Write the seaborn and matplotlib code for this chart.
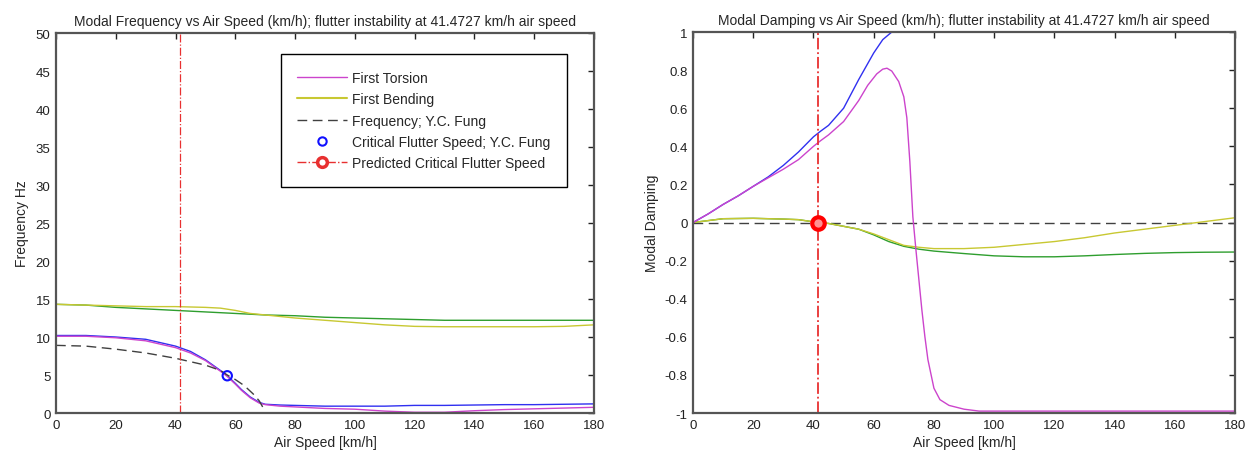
import matplotlib
matplotlib.use("Agg")
import matplotlib.pyplot as plt
from matplotlib.lines import Line2D
import seaborn as sns
import numpy as np

# --- DATA ---
CRIT_SPEED = 41.4727
FUNG_CRIT_SPEED = 57.3
FUNG_CRIT_FREQ = 4.9

# left panel: modal frequency [Hz]
tors_f_speed = [0, 10, 20, 30, 40, 45, 50, 55, 57.3, 60, 62, 65, 68, 70, 75, 80, 90, 100,
                110, 120, 130, 140, 150, 160, 170, 180]
tors_f = [10.1, 10.1, 9.9, 9.5, 8.6, 7.9, 6.9, 5.5, 4.8, 3.8, 3.0, 2.0, 1.3, 1.1, 0.9, 0.8,
          0.6, 0.5, 0.25, 0.1, 0.1, 0.3, 0.45, 0.55, 0.65, 0.75]
alt_tors_f = [10.2, 10.2, 10.0, 9.7, 8.8, 8.1, 7.0, 5.6, 4.9, 3.9, 3.1, 2.1, 1.4, 1.15, 1.05,
              1.0, 0.9, 0.9, 0.9, 1.0, 1.0, 1.05, 1.1, 1.1, 1.15, 1.2]

bend_f_speed = [0, 10, 20, 30, 40, 50, 55, 60, 65, 70, 80, 90, 100, 110, 120, 130, 140, 150,
                160, 170, 180]
bend_f = [14.3, 14.2, 14.1, 14.0, 14.0, 13.9, 13.8, 13.5, 13.1, 12.9, 12.5, 12.2, 11.9, 11.6,
          11.4, 11.35, 11.35, 11.35, 11.35, 11.4, 11.6]
alt_bend_f = [14.3, 14.2, 13.9, 13.7, 13.5, 13.3, 13.2, 13.1, 13.0, 12.9, 12.8, 12.6, 12.5,
              12.4, 12.3, 12.2, 12.2, 12.2, 12.2, 12.2, 12.2]

fung_speed = [0, 10, 20, 30, 40, 50, 55, 57.3, 60, 63, 66, 68, 70]
fung_f = [8.9, 8.8, 8.4, 7.9, 7.2, 6.3, 5.6, 5.0, 4.4, 3.6, 2.5, 1.6, 0.2]

# right panel: modal damping
tors_d_speed = [0, 5, 10, 15, 20, 25, 30, 35, 40, 42.4, 45, 50, 55, 58, 61, 63, 64.4, 66,
                68.3, 70, 71, 72, 73, 74, 75, 76, 77, 78, 80, 82, 85, 90, 95, 180]
tors_d = [0, 0.045, 0.095, 0.14, 0.19, 0.235, 0.28, 0.33, 0.4, 0.43, 0.46, 0.53, 0.64, 0.72,
          0.78, 0.805, 0.81, 0.795, 0.74, 0.66, 0.55, 0.32, 0.03, -0.14, -0.3, -0.46, -0.6,
          -0.72, -0.87, -0.93, -0.96, -0.98, -0.99, -0.99]

alt_tors_d_speed = [0, 5, 10, 15, 20, 25, 30, 35, 40, 42.4, 45, 50, 55, 60, 63, 66, 70, 180]
alt_tors_d = [0, 0.045, 0.095, 0.14, 0.19, 0.24, 0.3, 0.37, 0.45, 0.48, 0.51, 0.6, 0.75,
              0.89, 0.96, 1.0, 1.0, 1.0]

bend_d_speed = [0, 5, 10, 20, 30, 35, 41.5, 45, 50, 55, 60, 65, 70, 75, 80, 90, 100, 110,
                120, 130, 140, 150, 160, 170, 180]
bend_d = [0, 0.01, 0.02, 0.022, 0.018, 0.015, 0.0, -0.005, -0.02, -0.035, -0.06, -0.09,
          -0.12, -0.13, -0.137, -0.137, -0.13, -0.115, -0.1, -0.08, -0.055, -0.035, -0.015,
          0.005, 0.025]
alt_bend_d = [0, 0.01, 0.02, 0.022, 0.018, 0.015, 0.0, -0.005, -0.02, -0.035, -0.065, -0.1,
              -0.125, -0.14, -0.15, -0.163, -0.175, -0.18, -0.18, -0.175, -0.168, -0.162,
              -0.158, -0.156, -0.155]

zero_speed = [0, 180]
zero_d = [0, 0]

freq_ticks = list(range(0, 51, 5))
damp_ticks = [-1, -0.8, -0.6, -0.4, -0.2, 0, 0.2, 0.4, 0.6, 0.8, 1]
speed_ticks = list(range(0, 181, 20))

# --- STYLE ---
sns.set_style("white")
plt.rcParams['font.family'] = ['Liberation Sans', 'DejaVu Sans']

MAGENTA = '#cc44cc'
YELLOW = '#c8c832'
GREEN = '#2e9e2e'
BLUE = '#3030f0'
RED = '#e83030'
DASH = '#404040'

TITLE_FS = 10
LABEL_FS = 10
TICK_FS = 9.5

fig = plt.figure(figsize=(12.56, 4.56), dpi=100)
ax1 = fig.add_axes([0.0446, 0.0921, 0.4283, 0.8333])
ax2 = fig.add_axes([0.5518, 0.0921, 0.4315, 0.8355])


def line(ax, x, y, color):
    sns.lineplot(x=x, y=y, ax=ax, color=color, sort=False, estimator=None, lw=1.0)
    return ax.lines[-1]


# ===== LEFT: frequency =====
line(ax1, bend_f_speed, alt_bend_f, GREEN)
line(ax1, bend_f_speed, bend_f, YELLOW)
line(ax1, tors_f_speed, alt_tors_f, BLUE)
line(ax1, tors_f_speed, tors_f, MAGENTA)
line(ax1, fung_speed, fung_f, DASH).set_dashes((7, 4))
sns.scatterplot(x=[FUNG_CRIT_SPEED], y=[FUNG_CRIT_FREQ], ax=ax1, s=45, marker='o',
                facecolor='none', edgecolor='#1010ff', linewidth=1.5, zorder=5)
ax1.axvline(CRIT_SPEED, color=RED, lw=0.9, linestyle='-.')

ax1.set_xlim(0, 180)
ax1.set_ylim(0, 50)
ax1.set_xticks(speed_ticks)
ax1.set_yticks(freq_ticks)
ax1.set_title("Modal Frequency vs Air Speed (km/h); flutter instability at 41.4727 km/h air speed",
              fontsize=TITLE_FS, pad=6)
ax1.set_xlabel("Air Speed [km/h]", fontsize=LABEL_FS, labelpad=3)
ax1.set_ylabel("Frequency Hz", fontsize=LABEL_FS, labelpad=5)

handles = [
    Line2D([], [], color=MAGENTA, lw=1.0),
    Line2D([], [], color=YELLOW, lw=1.5),
    Line2D([], [], color=DASH, lw=1.0, dashes=(7, 4)),
    Line2D([], [], color='#1010ff', lw=0, marker='o', mfc='none', mew=1.5, ms=6),
    Line2D([], [], color=RED, lw=1.0, linestyle='-.', marker='o', mfc='white', mec=RED,
           mew=2.5, ms=7),
]
labels = ["First Torsion", "First Bending", "Frequency; Y.C. Fung",
          "Critical Flutter Speed; Y.C. Fung", "Predicted Critical Flutter Speed"]
leg = ax1.legend(handles, labels, loc='upper left', bbox_to_anchor=(0.405, 0.962),
                 fontsize=10, handlelength=3.6, labelspacing=0.52, borderpad=1.2,
                 handletextpad=0.35, fancybox=False, framealpha=1, edgecolor='black')
leg.get_frame().set_linewidth(1.0)

# ===== RIGHT: damping =====
line(ax2, zero_speed, zero_d, DASH).set_dashes((7, 4))
line(ax2, bend_d_speed, alt_bend_d, GREEN)
line(ax2, bend_d_speed, bend_d, YELLOW)
line(ax2, alt_tors_d_speed, alt_tors_d, BLUE)
line(ax2, tors_d_speed, tors_d, MAGENTA)
ax2.axvline(CRIT_SPEED, color=RED, lw=1.3, linestyle='-.')
ax2.plot([CRIT_SPEED], [0], marker='o', ms=9, mfc='#ff9090', mec='red', mew=3, zorder=6)

ax2.set_xlim(0, 180)
ax2.set_ylim(-1, 1)
ax2.set_xticks(speed_ticks)
ax2.set_yticks(damp_ticks)
ax2.set_yticklabels([f"{v:g}" for v in damp_ticks])
ax2.set_title("Modal Damping vs Air Speed (km/h); flutter instability at 41.4727 km/h air speed",
              fontsize=TITLE_FS, pad=6)
ax2.set_xlabel("Air Speed [km/h]", fontsize=LABEL_FS, labelpad=3)
ax2.set_ylabel("Modal Damping", fontsize=LABEL_FS, labelpad=4)
if ax2.get_legend() is not None:
    ax2.get_legend().remove()

for ax in (ax1, ax2):
    for s in ax.spines.values():
        s.set_color('#555555')
        s.set_linewidth(1.6)
    ax.tick_params(direction='in', length=4, width=1, top=True, right=True,
                   labelsize=TICK_FS, colors='#222222', pad=4)

plt.savefig('out.png', dpi=100)
